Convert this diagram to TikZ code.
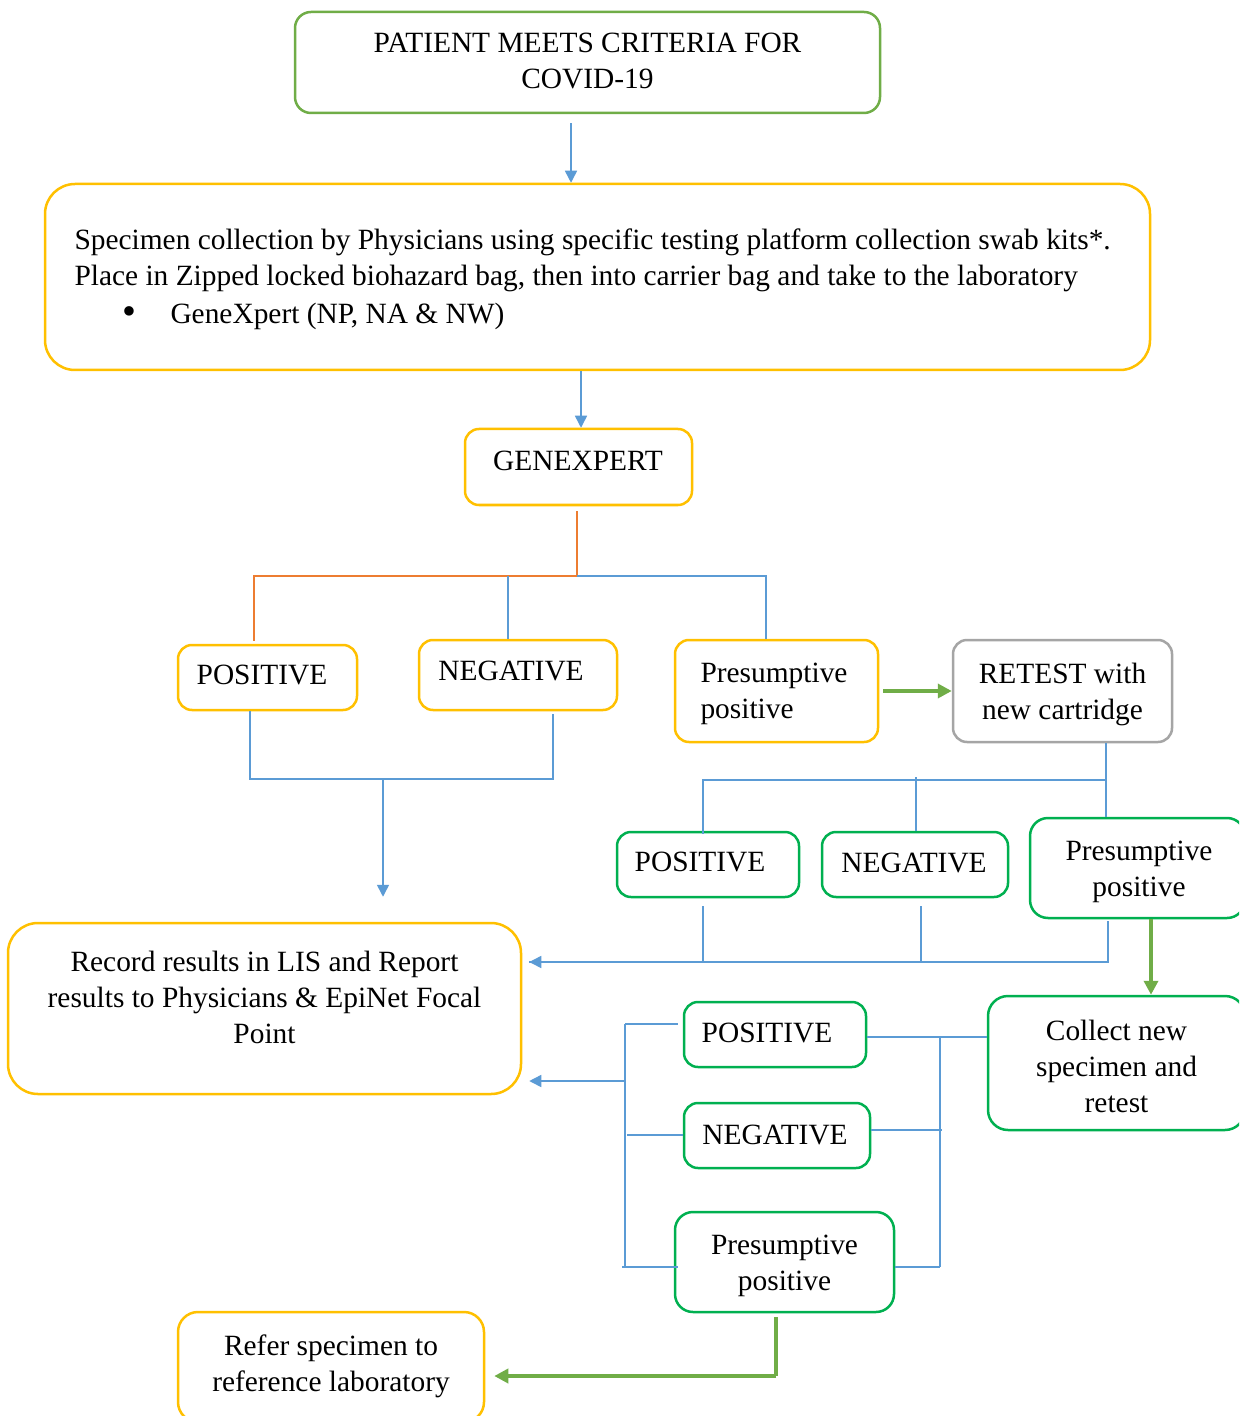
\documentclass[tikz,border=0pt]{standalone}
\usepackage{fontspec}
\setmainfont{Liberation Serif}
\usetikzlibrary{arrows.meta}
\definecolor{cyel}{HTML}{FFC000}
\definecolor{cgrn}{HTML}{00B050}
\definecolor{clgr}{HTML}{70AD47}
\definecolor{cgry}{HTML}{A5A5A5}
\definecolor{cblu}{HTML}{5B9BD5}
\definecolor{cora}{HTML}{ED7D31}
\begin{document}
\begin{tikzpicture}[x=0.5pt,y=-0.5pt,
  box/.style={draw, line width=1.25pt, rounded corners=7pt, align=center, inner sep=0pt,
    font=\fontsize{14.7}{18}\selectfont},
  txt/.style={align=center, inner sep=0pt, font=\fontsize{14.7}{18}\selectfont},
  ybox/.style={box, draw=cyel},
  gbox/.style={box, draw=cgrn},
  lgbox/.style={box, draw=clgr},
  gybox/.style={box, draw=cgry},
  bline/.style={draw=cblu, line width=0.75pt},
  barrow/.style={bline, -{Triangle[width=6pt,length=6pt]}},
  oline/.style={draw=cora, line width=0.75pt},
  garrow/.style={draw=clgr, line width=2pt, -{Triangle[width=7pt,length=7pt]}},
  gline/.style={draw=clgr, line width=2pt}
]
\clip (0,0) rectangle (1239,1416);
\fill[white] (0,0) rectangle (1239,1416);

% boxes
\node[lgbox, rounded corners=8pt, minimum width=292.5pt, minimum height=50.5pt] (patient) at (587.5,62.5) {};
\node[txt] (patienttxt) at (587.5,61) {PATIENT MEETS CRITERIA FOR\\COVID-19};
\node[ybox, rounded corners=15pt, minimum width=552.5pt, minimum height=93pt] (spec) at (597.5,277) {};
\node[txt, align=flush left, text width=524pt] (spectxt) at (598.5,279)
  {Specimen collection by Physicians using specific testing platform collection swab kits*.\\
   Place in Zipped locked biohazard bag, then into carrier bag and take to the laboratory\\[1pt]
   \makebox[48pt][l]{\hspace*{24pt}\raisebox{-0.5pt}{\scalebox{1.35}{\textbullet}}}GeneXpert (NP, NA \& NW)};
\node[ybox, minimum width=113.5pt, minimum height=38pt] (genx) at (578.5,467) {};
\node[txt] (genxtxt) at (578,461) {GENEXPERT};
\node[ybox, minimum width=89.5pt, minimum height=32.5pt] (pos1) at (267.5,677.5) {};
\node[txt] (pos1txt) at (262,675) {POSITIVE};
\node[ybox, minimum width=99pt, minimum height=35pt] (neg1) at (518,675) {};
\node[txt] (neg1txt) at (511,671) {NEGATIVE};
\node[ybox, minimum width=101.5pt, minimum height=51pt] (pres1) at (776.5,691) {};
\node[txt, align=left] (pres1txt) at (774,694) {Presumptive\\positive};
\node[gybox, minimum width=109.5pt, minimum height=51pt] (retest) at (1062.5,691) {};
\node[txt] (retesttxt) at (1062.5,694) {RETEST with\\new cartridge};
\node[ybox, rounded corners=15pt, minimum width=256.5pt, minimum height=85.5pt] (record) at (264.5,1008.5) {};
\node[txt] (recordtxt) at (264.5,997) {Record results in LIS and Report\\results to Physicians \& EpiNet Focal\\Point};
\node[gbox, minimum width=91pt, minimum height=32.5pt] (pos2) at (708,864.5) {};
\node[txt] (pos2txt) at (700,862) {POSITIVE};
\node[gbox, minimum width=93pt, minimum height=32.5pt] (neg2) at (915,864.5) {};
\node[txt] (neg2txt) at (914,863) {NEGATIVE};
\node[gbox, rounded corners=9pt, minimum width=107.5pt, minimum height=50pt] (pres2) at (1137.5,868) {};
\node[txt] (pres2txt) at (1139,872) {Presumptive\\positive};
\node[gbox, rounded corners=10pt, minimum width=128.5pt, minimum height=67pt] (collect) at (1116.5,1063) {};
\node[txt] (collecttxt) at (1116.5,1066) {Collect new\\specimen and\\retest};
\node[gbox, minimum width=91pt, minimum height=32.5pt] (pos3) at (775,1034.5) {};
\node[txt] (pos3txt) at (767,1033) {POSITIVE};
\node[gbox, minimum width=93pt, minimum height=32.5pt] (neg3) at (777,1135.5) {};
\node[txt] (neg3txt) at (775,1135) {NEGATIVE};
\node[gbox, rounded corners=9pt, minimum width=109.5pt, minimum height=50pt] (pres3) at (784.5,1262) {};
\node[txt] (pres3txt) at (784.5,1266) {Presumptive\\positive};
\node[ybox, rounded corners=10pt, minimum width=153pt, minimum height=55pt] (refer) at (331,1367) {};
\node[txt] (refertxt) at (331,1366) {Refer specimen to\\reference laboratory};

% named coordinates for bus lines
\coordinate (xa) at (571,0);
\coordinate (xb) at (581,0);
\coordinate (hub) at (577,576);
\coordinate (xp1) at (254,0);
\coordinate (xn1) at (508,0);
\coordinate (xr1) at (766,0);
\coordinate (yb1) at (0,779);
\coordinate (xl1) at (250,0);
\coordinate (xl2) at (553,0);
\coordinate (xdown) at (383,0);
\coordinate (xrt) at (1106,0);
\coordinate (yb2) at (0,780);
\coordinate (xq1) at (703,0);
\coordinate (xq2) at (916,0);
\coordinate (xq3) at (921,0);
\coordinate (xq4) at (1108,0);
\coordinate (yb3) at (0,962);
\coordinate (xg) at (1151,0);
\coordinate (ybus) at (0,1037);
\coordinate (xrb) at (940,0);
\coordinate (xlb) at (625,0);
\coordinate (yl1) at (0,1024);
\coordinate (yn3l) at (0,1135);
\coordinate (yn3r) at (0,1130);
\coordinate (yl3) at (0,1267);
\coordinate (yla) at (0,1081);
\coordinate (xgr) at (776,0);
\coordinate (ygr) at (0,1376);

% top arrows
\draw[barrow, shorten <=4.5pt] (patient.south -| xa) -- (spec.north -| xa);
\draw[barrow] (spec.south -| xb) -- (genx.north -| xb);

% genexpert tree
\draw[oline, shorten <=2.5pt] (genx.south -| hub) -- (hub);
\draw[oline] (hub) -| ([yshift=1.5pt]pos1.north -| xp1);
\draw[bline] (hub) -| (pres1.north -| xr1);
\draw[bline] (hub -| xn1) -- (neg1.north -| xn1);

% positive / negative to record
\draw[bline] (pos1.south -| xl1) |- (yb1 -| xdown) -| ([yshift=-1.5pt]neg1.south -| xl2);
\draw[barrow, shorten >=12.5pt] (yb1 -| xdown) -- (record.north -| xdown);

% presumptive -> retest
\draw[garrow, shorten <=2pt] (pres1.east) -- (retest.west);

% retest tree
\draw[bline] (retest.south -| xrt) -- (pres2.north -| xrt);
\draw[bline] (yb2 -| xrt) -| ([yshift=-1.5pt]pos2.north -| xq1);
\draw[bline] ([yshift=1.5pt]yb2 -| xq2) -- (neg2.north -| xq2);

% second row to record
\draw[bline, shorten <=4pt] (pos2.south -| xq1) -- (yb3 -| xq1);
\draw[bline, shorten <=4pt] (neg2.south -| xq3) -- (yb3 -| xq3);
\draw[bline, shorten <=1pt] (pres2.south -| xq4) |- ([xshift=3.5pt]record.east |- yb3);
\draw[barrow] (yb3 -| xq4) -- ([xshift=3.5pt]record.east |- yb3);

% presumptive -> collect
\draw[garrow] (pres2.south -| xg) -- (collect.north -| xg);

% right bus
\draw[bline] (collect.west |- ybus) -- (pos3.east |- ybus);
\draw[bline] (ybus -| xrb) -- (yl3 -| xrb);
\draw[bline] (neg3.east |- yn3r) -- ([xshift=1pt]yn3r -| xrb);
\draw[bline] (pres3.east |- yl3) -- (yl3 -| xrb);

% left bus
\draw[bline] (yl1 -| xlb) -- (yl3 -| xlb);
\draw[bline, shorten >=2.5pt] (yl1 -| xlb) -- (pos3.west |- yl1);
\draw[bline] ([xshift=1pt]yn3l -| xlb) -- (neg3.west |- yn3l);
\draw[bline] ([xshift=-1.5pt]yl3 -| xlb) -- ([xshift=2pt]pres3.west |- yl3);
\draw[barrow] (yla -| xlb) -- ([xshift=3.5pt]record.east |- yla);

% presumptive -> refer
\draw[gline, shorten <=2pt] (pres3.south -| xgr) -- (ygr -| xgr);
\draw[garrow] (ygr -| xgr) -- ([xshift=4.5pt]refer.east |- ygr);
\end{tikzpicture}
\end{document}
